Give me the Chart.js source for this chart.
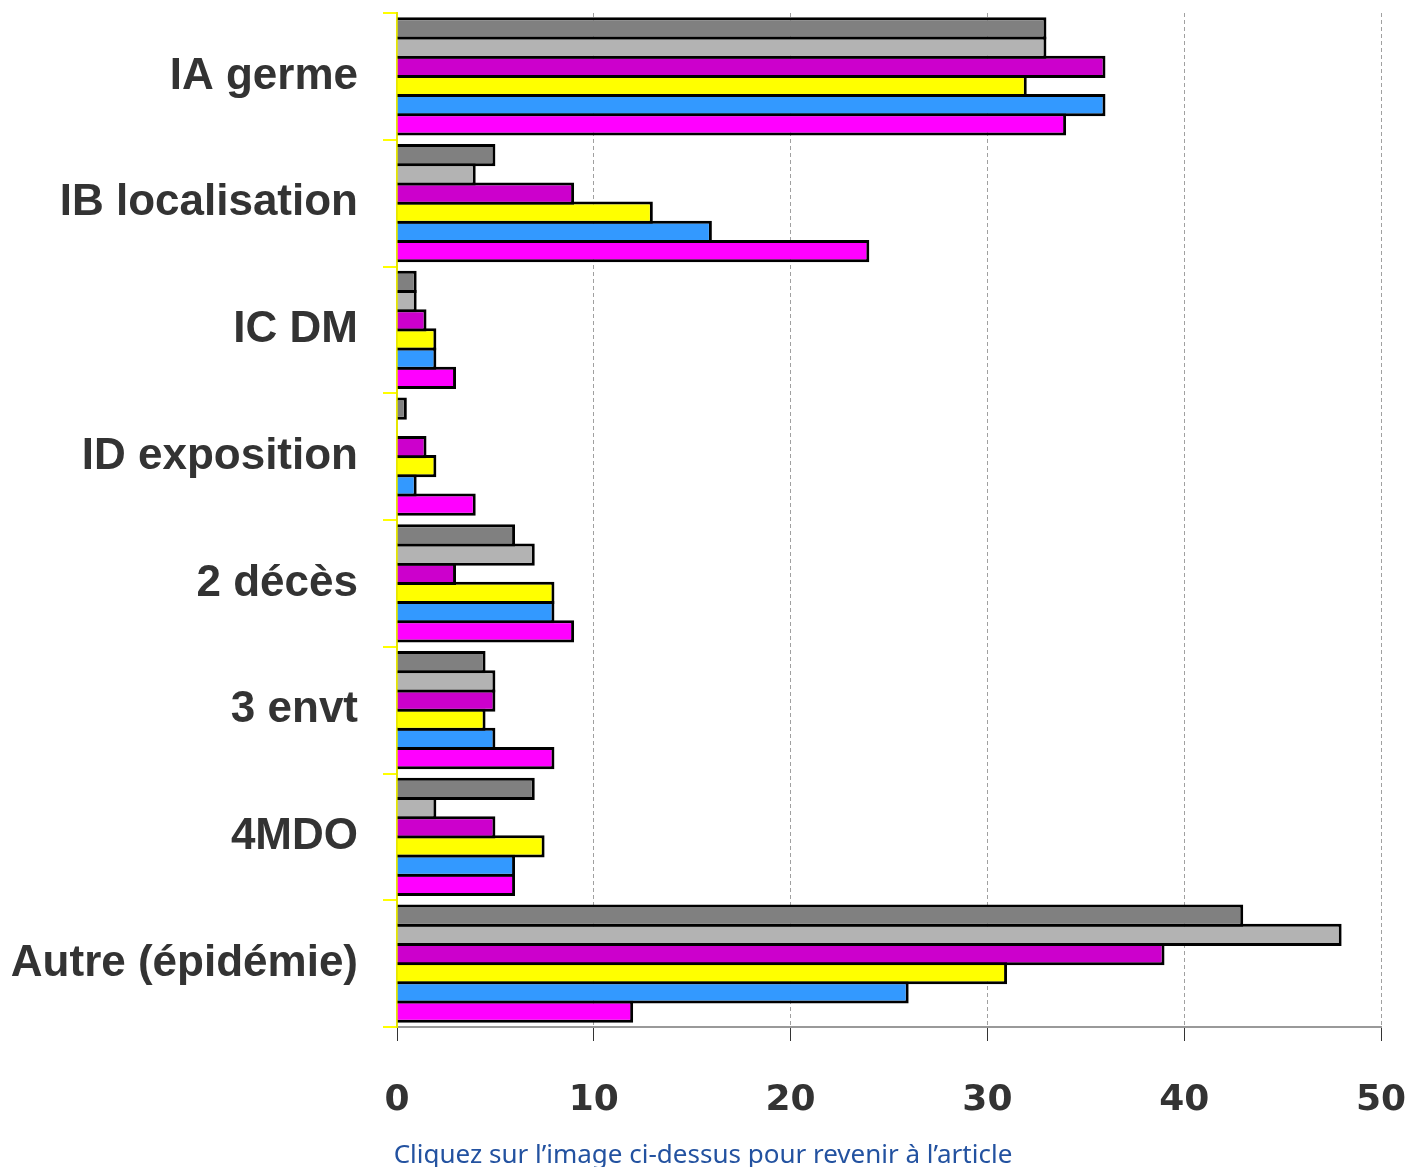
<!DOCTYPE html>
<html lang="fr">
<head>
<meta charset="utf-8">
<title>Répartition par catégorie</title>
<script src="https://cdn.jsdelivr.net/npm/chart.js@4/dist/chart.umd.min.js"></script>
<style>
  html, body { margin: 0; padding: 0; background: #fff; }
  #wrap { position: relative; width: 1406px; height: 1167px; }
  #caption {
    position: absolute; left: 0; width: 1406px; top: 1140px; line-height: 26px;
    text-align: center; font-family: "Noto Sans", sans-serif; font-size: 26px;
    color: #2352a0; white-space: nowrap;
  }
</style>
</head>
<body>
<div id="wrap">
  <canvas id="chart" width="1406" height="1167"></canvas>
  <div id="caption">Cliquez sur l’image ci-dessus pour revenir à l’article</div>
</div>
<script>
// categories (y axis) and x ticks
const categories = ["IA germe", "IB localisation", "IC DM", "ID exposition", "2 décès", "3 envt", "4MDO", "Autre (épidémie)"];
const xTicks = [0, 10, 20, 30, 40, 50];

// one array per series, in category order
const serie1 = [33, 5, 1, 0.5, 6, 4.5, 7, 43];
const serie2 = [33, 4, 1, 0, 7, 5, 2, 48];
const serie3 = [36, 9, 1.5, 1.5, 3, 5, 5, 39];
const serie4 = [32, 13, 2, 2, 8, 4.5, 7.5, 31];
const serie5 = [36, 16, 2, 1, 8, 5, 6, 26];
const serie6 = [34, 24, 3, 4, 9, 8, 6, 12];

const seriesNames = ["Série 1", "Série 2", "Série 3", "Série 4", "Série 5", "Série 6"];
const seriesData = [serie1, serie2, serie3, serie4, serie5, serie6];
const seriesColors = ["#808080", "#b3b3b3", "#cc00cc", "#ffff00", "#3399ff", "#ff00ff"];

// bars overlap slightly so neighbours share one black edge
const datasets = seriesData.map((d, i) => ({
  label: seriesNames[i],
  data: d,
  backgroundColor: seriesColors[i],
  borderColor: "#000",
  borderWidth: 3,
  barPercentage: 1.156,
  categoryPercentage: 0.911
}));

new Chart(document.getElementById("chart"), {
  type: "bar",
  data: { labels: categories, datasets: datasets },
  options: {
    indexAxis: "y",
    responsive: false,
    animation: false,
    layout: { padding: { top: 13, right: 25, left: 0, bottom: 0 } },
    plugins: { legend: { display: false }, tooltip: { enabled: false } },
    scales: {
      x: {
        min: 0,
        max: 50,
        afterBuildTicks: (scale) => { scale.ticks = xTicks.map(v => ({ value: v })); },
        afterFit: (scale) => {
          scale.height = 140;
          scale.paddingLeft = 0;
          scale.paddingRight = 0;
        },
        grid: {
          color: (ctx) => ctx.tick && ctx.tick.value === 0 ? "rgba(0,0,0,0)" : "#a0a0a0",
          lineWidth: 1,
          tickLength: 14,
          tickColor: "#333"
        },
        border: { color: "#999", width: 2, dash: [4, 3] },
        ticks: {
          padding: 38,
          color: "#333",
          font: { family: "DejaVu Sans", size: 36, weight: "bold" }
        }
      },
      y: {
        z: 1,
        afterFit: (scale) => {
          scale.width = 397;
          scale.paddingTop = 0;
          scale.paddingBottom = 0;
        },
        grid: {
          drawOnChartArea: false,
          color: "#ffff00",
          tickLength: 14,
          lineWidth: 2
        },
        border: { color: "#e6e600", width: 2 },
        ticks: {
          padding: 25,
          color: "#333",
          font: { family: "Liberation Sans", size: 44, weight: "bold" }
        }
      }
    }
  }
});
</script>
</body>
</html>
